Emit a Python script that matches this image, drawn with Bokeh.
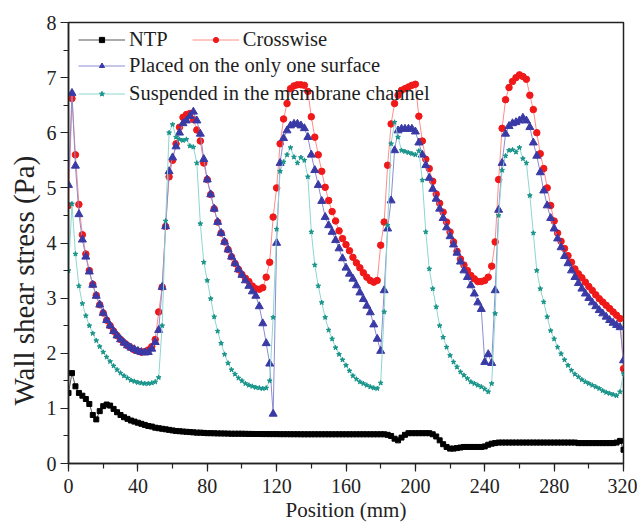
from bokeh.plotting import figure
from bokeh.models import (Range1d, SingleIntervalTicker, Legend, LegendItem,
                          Title, ColumnDataSource)
from bokeh.embed import file_html
from bokeh.resources import INLINE

# ---------------- data ----------------
position = list(range(0, 321, 2))  # mm

ntp = [
    1.28, 1.64, 1.40, 1.28, 1.23, 1.17, 1.08, 0.88, 0.80, 0.95,
    1.04, 1.07, 1.05, 0.99, 0.93, 0.88, 0.84, 0.81, 0.78, 0.76,
    0.74, 0.72, 0.70, 0.68, 0.67, 0.65, 0.64, 0.63, 0.62, 0.61,
    0.60, 0.59, 0.585, 0.58, 0.575, 0.57, 0.565, 0.56, 0.56, 0.555,
    0.55, 0.55, 0.548, 0.546, 0.545, 0.544, 0.542, 0.54, 0.54, 0.54,
    0.54, 0.538, 0.537, 0.536, 0.535, 0.535, 0.534, 0.534, 0.533, 0.533,
    0.533, 0.532, 0.532, 0.532, 0.531, 0.531, 0.531, 0.53, 0.53, 0.53,
    0.53, 0.53, 0.53, 0.53, 0.53, 0.53, 0.53, 0.53, 0.53, 0.53,
    0.53, 0.53, 0.53, 0.53, 0.53, 0.53, 0.53, 0.53, 0.53, 0.53,
    0.53, 0.53, 0.52, 0.50, 0.45, 0.42, 0.47, 0.52, 0.55, 0.55,
    0.55, 0.55, 0.55, 0.55, 0.55, 0.53, 0.49, 0.42, 0.35, 0.30,
    0.27, 0.27, 0.28, 0.29, 0.30, 0.30, 0.30, 0.30, 0.30, 0.30,
    0.31, 0.34, 0.36, 0.37, 0.38, 0.38, 0.38, 0.38, 0.38, 0.38,
    0.38, 0.38, 0.38, 0.38, 0.38, 0.38, 0.38, 0.38, 0.38, 0.38,
    0.38, 0.38, 0.38, 0.38, 0.38, 0.38, 0.38, 0.37, 0.37, 0.37,
    0.37, 0.37, 0.37, 0.37, 0.37, 0.37, 0.37, 0.37, 0.38, 0.41,
    0.25,
]

crosswise = [
    4.68, 6.62, 5.60, 4.70, 4.15, 3.80, 3.50, 3.25, 3.05, 2.88,
    2.73, 2.60, 2.50, 2.40, 2.32, 2.25, 2.19, 2.14, 2.10, 2.06,
    2.04, 2.02, 2.03, 2.06, 2.12, 2.25, 2.75, 3.20, 4.30, 5.20,
    5.50, 5.80, 6.10, 6.28, 6.33, 6.35, 6.24, 6.05, 5.85, 5.45,
    5.15, 4.88, 4.62, 4.38, 4.18, 4.02, 3.88, 3.75, 3.63, 3.52,
    3.43, 3.36, 3.30, 3.22, 3.17, 3.16, 3.19, 3.38, 3.65, 4.47,
    5.00, 5.80, 6.25, 6.53, 6.80, 6.85, 6.87, 6.87, 6.86, 6.75,
    6.29, 5.92, 5.60, 5.30, 5.01, 4.77, 4.57, 4.40, 4.22, 4.08,
    3.97, 3.86, 3.74, 3.64, 3.55, 3.46, 3.38, 3.32, 3.29, 3.32,
    3.96, 4.38, 5.41, 6.16, 6.53, 6.68, 6.77, 6.80, 6.83, 6.86,
    6.88, 6.30, 5.85, 5.52, 5.35, 5.12, 4.89, 4.72, 4.56, 4.38,
    4.20, 4.02, 3.85, 3.71, 3.60, 3.50, 3.41, 3.35, 3.30, 3.30,
    3.32, 3.38, 3.58, 4.02, 5.15, 6.08, 6.60, 6.82, 6.93, 7.00,
    7.05, 7.02, 6.97, 6.68, 6.42, 6.00, 5.62, 5.35, 5.00, 4.68,
    4.40, 4.18, 4.03, 3.90, 3.77, 3.65, 3.53, 3.44, 3.37, 3.29,
    3.21, 3.14, 3.06, 2.99, 2.93, 2.87, 2.81, 2.75, 2.69, 2.63,
    1.72,
]

one_surface = [
    5.05, 6.72, 5.40, 4.52, 4.06, 3.75, 3.48, 3.24, 3.04, 2.88,
    2.73, 2.60, 2.50, 2.40, 2.32, 2.25, 2.19, 2.14, 2.10, 2.07,
    2.04, 2.02, 2.01, 2.02, 2.08, 2.20, 2.42, 3.20, 4.30, 5.30,
    5.55, 5.75, 6.00, 6.17, 6.22, 6.30, 6.38, 6.22, 5.98, 5.52,
    5.15, 4.88, 4.62, 4.38, 4.18, 4.02, 3.88, 3.75, 3.63, 3.52,
    3.42, 3.32, 3.22, 3.12, 3.04, 2.85, 2.54, 2.18, 1.81, 0.90,
    4.00, 5.45, 5.90, 6.04, 6.13, 6.16, 6.16, 6.13, 6.08, 5.92,
    5.60, 5.32, 5.05, 4.76, 4.47, 4.32, 4.20, 4.05, 3.90, 3.72,
    3.55, 3.44, 3.35, 3.23, 3.10, 2.98, 2.86, 2.74, 2.52, 2.26,
    2.04, 3.14, 4.26, 4.77, 5.68, 6.04, 6.07, 6.07, 6.07, 6.07,
    6.02, 5.82, 5.60, 5.41, 5.18, 4.98, 4.80, 4.62, 4.45, 4.28,
    4.12, 3.97, 3.82, 3.66, 3.50, 3.38, 3.23, 3.08, 2.92, 2.80,
    1.84, 1.98, 1.82, 3.14, 4.60, 5.45, 5.98, 6.12, 6.17, 6.19,
    6.22, 6.27, 6.22, 6.10, 5.82, 5.58, 5.28, 4.95, 4.68, 4.45,
    4.26, 4.08, 3.92, 3.76, 3.63, 3.50, 3.38, 3.27, 3.17, 3.08,
    3.00, 2.92, 2.85, 2.78, 2.72, 2.66, 2.60, 2.55, 2.51, 2.47,
    1.87,
]

suspended = [
    3.50, 4.71, 3.80, 3.22, 2.90, 2.68, 2.50, 2.36, 2.23, 2.12,
    2.02, 1.93, 1.85, 1.77, 1.70, 1.64, 1.59, 1.55, 1.51, 1.49,
    1.47, 1.46, 1.45, 1.45, 1.46, 1.48, 1.56, 2.50, 4.40, 6.00,
    6.15, 5.92, 5.88, 5.86, 5.88, 5.76, 5.74, 5.45, 4.35, 3.65,
    3.32, 2.99, 2.66, 2.40, 2.18, 1.98, 1.82, 1.70, 1.62, 1.55,
    1.50, 1.45, 1.42, 1.40, 1.38, 1.37, 1.36, 1.37, 1.50, 2.65,
    4.25, 5.30, 5.47, 5.60, 5.73, 5.56, 5.45, 5.55, 5.50, 5.20,
    4.20, 3.60, 3.22, 2.92, 2.65, 2.42, 2.26, 2.10, 1.98, 1.88,
    1.78, 1.68, 1.59, 1.53, 1.48, 1.45, 1.42, 1.39, 1.37, 1.36,
    1.46, 2.75, 4.32, 5.80, 6.19, 5.92, 5.68, 5.66, 5.64, 5.62,
    5.60, 5.67, 5.14, 4.20, 3.53, 3.17, 2.84, 2.50, 2.29, 2.11,
    1.96, 1.84, 1.75, 1.66, 1.60, 1.54, 1.48, 1.45, 1.42, 1.39,
    1.35, 1.30, 1.45, 2.72, 4.50, 5.32, 5.58, 5.68, 5.69, 5.65,
    5.73, 5.53, 5.45, 4.86, 4.18, 3.50, 3.17, 2.93, 2.66, 2.41,
    2.26, 2.11, 1.99, 1.88, 1.78, 1.69, 1.62, 1.57, 1.52, 1.48,
    1.45, 1.42, 1.39, 1.36, 1.32, 1.29, 1.27, 1.25, 1.23, 1.30,
    1.63,
]

x_ticks_interval = 40
y_ticks_interval = 1

labels = ["NTP", "Crosswise", "Placed on the only one surface",
          "Suspended in the membrane channel"]
x_title = "Position (mm)"
y_title = "Wall shear stress (Pa)"

for arr in (ntp, crosswise, one_surface, suspended):
    assert len(arr) == len(position), len(arr)

# ---------------- figure ----------------
FONT = "Liberation Serif"
INK = "#222222"

p = figure(width=637, height=525, output_backend="svg", toolbar_location=None,
           x_range=Range1d(0, 320), y_range=Range1d(0, 8),
           min_border_left=68, min_border_right=14, min_border_top=22,
           min_border_bottom=62)
p.xgrid.visible = False
p.ygrid.visible = False
p.outline_line_color = INK
p.outline_line_width = 1.5
p.background_fill_color = "white"
p.border_fill_color = "white"

for ax in (p.xaxis[0], p.yaxis[0]):
    ax.axis_line_color = INK
    ax.axis_line_width = 1.5
    ax.major_tick_line_color = INK
    ax.minor_tick_line_color = INK
    ax.major_tick_line_width = 1.2
    ax.minor_tick_line_width = 1.2
    ax.major_tick_out = 8
    ax.major_tick_in = 0
    ax.minor_tick_out = 5
    ax.minor_tick_in = 0
    ax.major_label_text_font = FONT
    ax.major_label_text_font_size = "20px"
    ax.major_label_text_color = INK
    ax.major_label_standoff = 4

p.xaxis.major_label_standoff = 7
p.xaxis.ticker = SingleIntervalTicker(interval=x_ticks_interval, num_minor_ticks=2)
p.yaxis.ticker = SingleIntervalTicker(interval=y_ticks_interval, num_minor_ticks=2)

p.xaxis.axis_label = x_title
p.xaxis.axis_label_text_font = FONT
p.xaxis.axis_label_text_font_size = "21px"
p.xaxis.axis_label_text_font_style = "normal"
p.xaxis.axis_label_text_color = INK
p.xaxis.axis_label_standoff = 2

src = ColumnDataSource(dict(position=position, ntp=ntp, cross=crosswise,
                            one=one_surface, susp=suspended))

l_ntp = p.line("position", "ntp", source=src, line_color="#555555", line_width=1)
s_ntp = p.scatter("position", "ntp", source=src, marker="square", size=5,
                  fill_color="black", line_color="black")

l_cr = p.line("position", "cross", source=src, line_color="#ff8c8c", line_width=1)
s_cr = p.scatter("position", "cross", source=src, marker="circle", size=6.5,
                 fill_color="#f01818", line_color="#f01818")

l_one = p.line("position", "one", source=src, line_color="#8c8cd0", line_width=1)
s_one = p.scatter("position", "one", source=src, marker="triangle", size=8,
                  fill_color="#3a3aa6", line_color="#3a3aa6")

l_su = p.line("position", "susp", source=src, line_color="#8ed6cf", line_width=1)
s_su = p.scatter("position", "susp", source=src, marker="star", size=5,
                 fill_color="#17948a", line_color="#17948a")

common = dict(border_line_color=None, background_fill_alpha=0, padding=0,
              margin=0, glyph_width=47, glyph_height=13, label_height=22,
              label_standoff=4, label_text_font=FONT,
              label_text_font_size="20.5px", label_text_color="#1e1e1e")

leg1 = Legend(items=[LegendItem(label=labels[0], renderers=[l_ntp, s_ntp]),
                     LegendItem(label=labels[1], renderers=[l_cr, s_cr])],
              orientation="horizontal", location=(10, 412), spacing=24, **common)
leg2 = Legend(items=[LegendItem(label=labels[2], renderers=[l_one, s_one]),
                     LegendItem(label=labels[3], renderers=[l_su, s_su])],
              orientation="vertical", location=(10, 358), spacing=5, **common)
p.add_layout(leg1, "center")
p.add_layout(leg2, "center")

ytitle = Title(text=y_title, align="left", offset=58, standoff=8,
               text_font=FONT, text_font_size="29px", text_font_style="normal",
               text_color=INK)
p.add_layout(ytitle, "left")

open("out.html", "w").write(file_html(p, INLINE))
